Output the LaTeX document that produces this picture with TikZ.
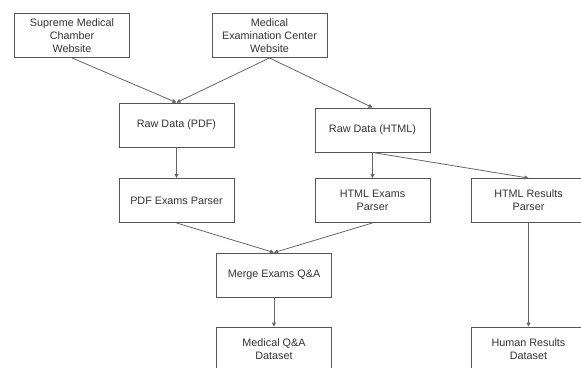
\documentclass[tikz,border=0pt]{standalone}
\usepackage{fontspec}
\setmainfont{Liberation Sans}
\usetikzlibrary{arrows.meta}
\definecolor{boxline}{HTML}{555555}
\definecolor{arrline}{HTML}{666666}
\definecolor{txt}{HTML}{333333}
\tikzset{
  box/.style={draw=boxline, line width=0.9pt, rectangle, minimum width=115pt, minimum height=44pt,
    align=center, inner sep=2pt, text=txt, font=\fontsize{10.8pt}{13pt}\selectfont},
  conn/.style={draw=arrline, line width=0.8pt, -{Triangle[length=4pt,width=4pt]}}
}
\begin{document}
\begin{tikzpicture}[x=1pt,y=-1pt]
\useasboundingbox (0,0) rectangle (581,367);
\clip (0,0) rectangle (581,367);
\node[box] (smc) at (72,35.5) {Supreme Medical\\Chamber\\Website};
\node[box] (mec) at (269.5,35.5) {Medical\\Examination Center\\Website};
\node[box] (rpdf) at (176.5,125) {Raw Data (PDF)};
\node[box] (rhtml) at (372.5,130) {Raw Data (HTML)};
\node[box] (pdfp) at (176.5,200.5) {PDF Exams Parser};
\node[box] (htmlp) at (372.5,200.5) {HTML Exams\\Parser};
\node[box] (htmlr) at (528.5,200.5) {HTML Results\\Parser};
\node[box] (merge) at (274,275) {Merge Exams Q\&A};
\node[box] (mqa) at (274,349) {Medical Q\&A\\Dataset};
\node[box] (hrd) at (528.5,349) {Human Results\\Dataset};
\draw[conn] (smc.south) -- (rpdf.north);
\draw[conn] (mec.south) -- (rpdf.north);
\draw[conn] (mec.south) -- (rhtml.north);
\draw[conn] (rpdf.south) -- (pdfp.north);
\draw[conn] (rhtml.south) -- (htmlp.north);
\draw[conn] (rhtml.south) -- (htmlr.north);
\draw[conn] (pdfp.south) -- (merge.north);
\draw[conn] (htmlp.south) -- (merge.north);
\draw[conn] (merge.south) -- (mqa.north);
\draw[conn] (htmlr.south) -- (hrd.north);
\end{tikzpicture}
\end{document}
